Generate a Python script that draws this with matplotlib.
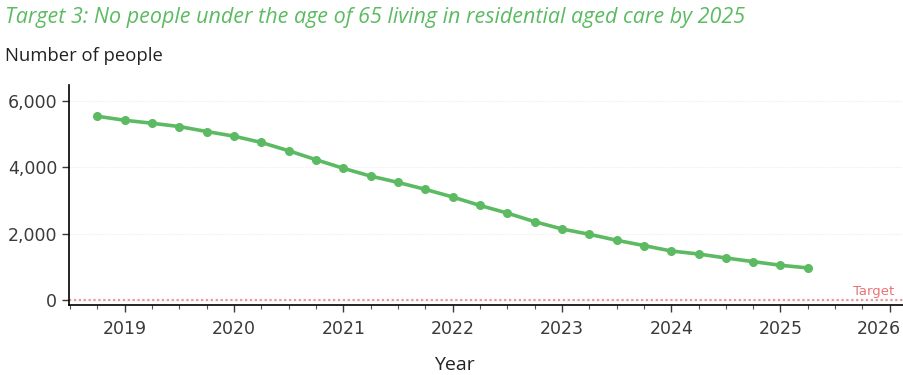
import numpy as np
import matplotlib.pyplot as plt
import matplotlib.transforms as mtransforms
from matplotlib.ticker import FuncFormatter, MultipleLocator

# quarterly figures, Sep 2018 to Mar 2025
quarters = [2018.75, 2019.0, 2019.25, 2019.5, 2019.75, 2020.0, 2020.25, 2020.5, 2020.75,
            2021.0, 2021.25, 2021.5, 2021.75, 2022.0, 2022.25, 2022.5, 2022.75,
            2023.0, 2023.25, 2023.5, 2023.75, 2024.0, 2024.25, 2024.5, 2024.75,
            2025.0, 2025.25]
people = [5540, 5420, 5330, 5230, 5080, 4940, 4750, 4500, 4230,
          3970, 3735, 3545, 3335, 3105, 2850, 2620, 2360,
          2140, 1980, 1800, 1640, 1475, 1385, 1265, 1155,
          1045, 965]
target = 0
year_ticks = [2019, 2020, 2021, 2022, 2023, 2024, 2025, 2026]

plt.rcParams['font.family'] = ['Open Sans', 'DejaVu Sans']

green = '#5cbb62'
fig = plt.figure(figsize=(9.04, 3.75), dpi=100)
ax = fig.add_axes([0.0763, 0.187, 0.9237, 0.586])

ax.plot(quarters, people, color=green, lw=2.6, marker='o', ms=5.5, zorder=3)
ax.axhline(target, color='#e8999b', lw=1.6, ls=(0, (1, 1.2)), zorder=2)
ax.text(2026.04, target + 60, 'Target', color='#ec7275', fontsize=9.5,
        family='DejaVu Sans', ha='right', va='bottom')

ax.set_xlim(2018.49, 2026.13)
ax.set_ylim(-150, 6480)
ax.set_xticks(year_ticks)
ax.xaxis.set_minor_locator(MultipleLocator(0.25))
ax.set_yticks([0, 2000, 4000, 6000])
ax.yaxis.set_major_formatter(FuncFormatter(lambda v, p: f'{int(v):,}'))

for s in ['top', 'right']:
    ax.spines[s].set_visible(False)
for s in ['left', 'bottom']:
    ax.spines[s].set_color('black')
    ax.spines[s].set_linewidth(1.2)

ax.tick_params(axis='both', which='major', labelsize=12.5, colors='#3a3a3a', length=5, width=1)
ax.tick_params(axis='x', which='minor', length=3, width=0.8, colors='#555555')
ax.tick_params(axis='x', pad=6)
for lab in ax.get_xticklabels() + ax.get_yticklabels():
    lab.set_family('DejaVu Sans')

# last year label pulled in so it stays inside the figure
last = ax.get_xticklabels()[-1]
last.set_horizontalalignment('right')
last.set_transform(last.get_transform() + mtransforms.ScaledTranslation(0.11, 0, fig.dpi_scale_trans))

ax.grid(axis='y', color='#eeeeee', lw=0.8, ls=(0, (1, 1)))
ax.set_axisbelow(True)

fig.text(0.006, 0.952, 'Target 3: No people under the age of 65 living in residential aged care by 2025',
         color=green, fontsize=15.5, style='italic', ha='left', va='center')
fig.text(0.006, 0.85, 'Number of people', color='#222222', fontsize=13.3, ha='left', va='center')
fig.text(0.503, 0.028, 'Year', color='#222222', fontsize=14, ha='center', va='center')

fig.savefig('out.png', dpi=100)
